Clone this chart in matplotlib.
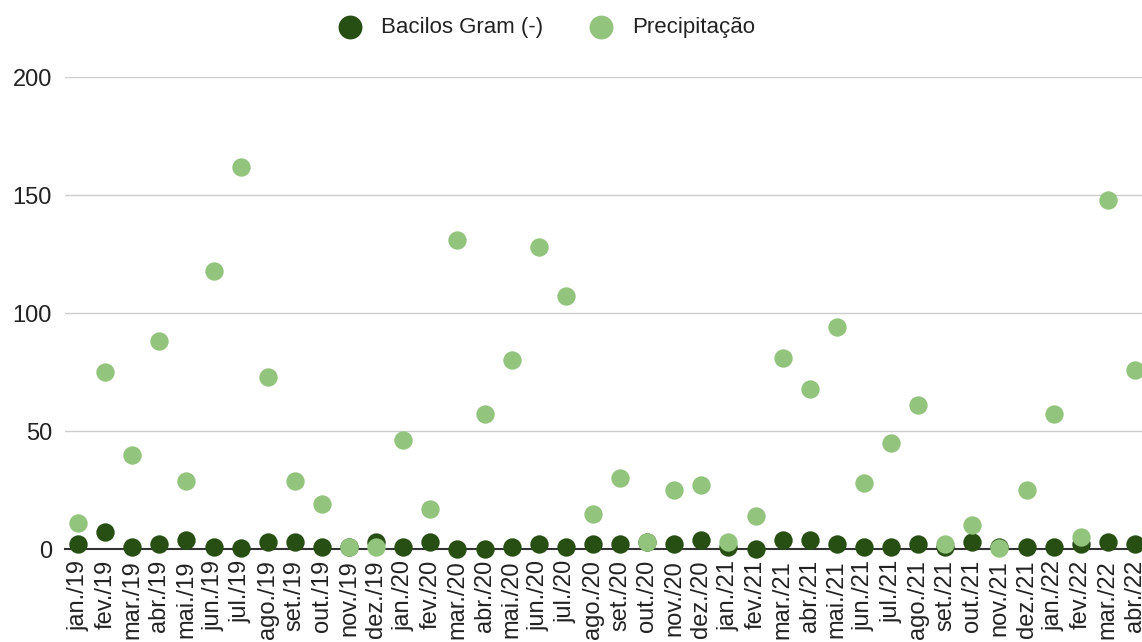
import matplotlib.pyplot as plt

# -----------------------------
# Dados
# -----------------------------
meses = [
    "jan./19", "fev./19", "mar./19", "abr./19", "mai./19", "jun./19", "jul./19", "ago./19",
    "set./19", "out./19", "nov./19", "dez./19",
    "jan./20", "fev./20", "mar./20", "abr./20", "mai./20", "jun./20", "jul./20", "ago./20",
    "set./20", "out./20", "nov./20", "dez./20",
    "jan./21", "fev./21", "mar./21", "abr./21", "mai./21", "jun./21", "jul./21", "ago./21",
    "set./21", "out./21", "nov./21", "dez./21",
    "jan./22", "fev./22", "mar./22", "abr./22",
]

bacilos = [2, 7, 1, 2, 4, 1, 0.5, 3, 3, 1, 1, 3,
           1, 3, 0, 0, 1, 2, 1, 2, 2, 3, 2, 4,
           1, 0, 4, 4, 2, 1, 1, 2, 1, 3, 1, 1,
           1, 2, 3, 2]

precipitacao = [11, 75, 40, 88, 29, 118, 162, 73, 29, 19, 1, 1,
                46, 17, 131, 57, 80, 128, 107, 15, 30, 3, 25, 27,
                3, 14, 81, 68, 94, 28, 45, 61, 2, 10, 0.5, 25,
                57, 5, 148, 76]

# -----------------------------
# Gráfica
# -----------------------------
plt.rcParams['font.family'] = ['Liberation Sans', 'DejaVu Sans']

fig = plt.figure(figsize=(11.42, 6.42), dpi=100)
ax = fig.add_axes([64.5 / 1142, 1 - 549 / 642, 1084 / 1142, (549 - 77) / 642])

x = list(range(len(meses)))
ax.scatter(x, bacilos, s=175, color='#274e13', label='Bacilos Gram (-)', zorder=3, clip_on=False, linewidths=0)
ax.scatter(x, precipitacao, s=175, color='#93c47d', label='Precipitação', zorder=4, clip_on=False, linewidths=0)

ax.set_xlim(-0.5, len(meses) - 0.5)
ax.set_ylim(0, 200)
ax.set_yticks([0, 50, 100, 150, 200])
ax.set_xticks(x)
ax.set_xticklabels(meses, rotation=90)
ax.tick_params(axis='both', length=0, labelsize=17, colors='#222222')
ax.tick_params(axis='y', pad=9)
ax.tick_params(axis='x', pad=8)

ax.grid(True, axis='y', color='#cccccc', linewidth=1)
ax.set_axisbelow(True)
for lado in ['top', 'right', 'left']:
    ax.spines[lado].set_visible(False)
ax.spines['bottom'].set_color('#333333')
ax.spines['bottom'].set_linewidth(1.5)

fig.legend(loc='upper center', bbox_to_anchor=(0.474, 1.005), ncol=2, frameon=False,
           fontsize=16, handletextpad=0.4, columnspacing=1.6, markerscale=1.3,
           labelcolor='#222222')

plt.savefig('out.png', dpi=100)
